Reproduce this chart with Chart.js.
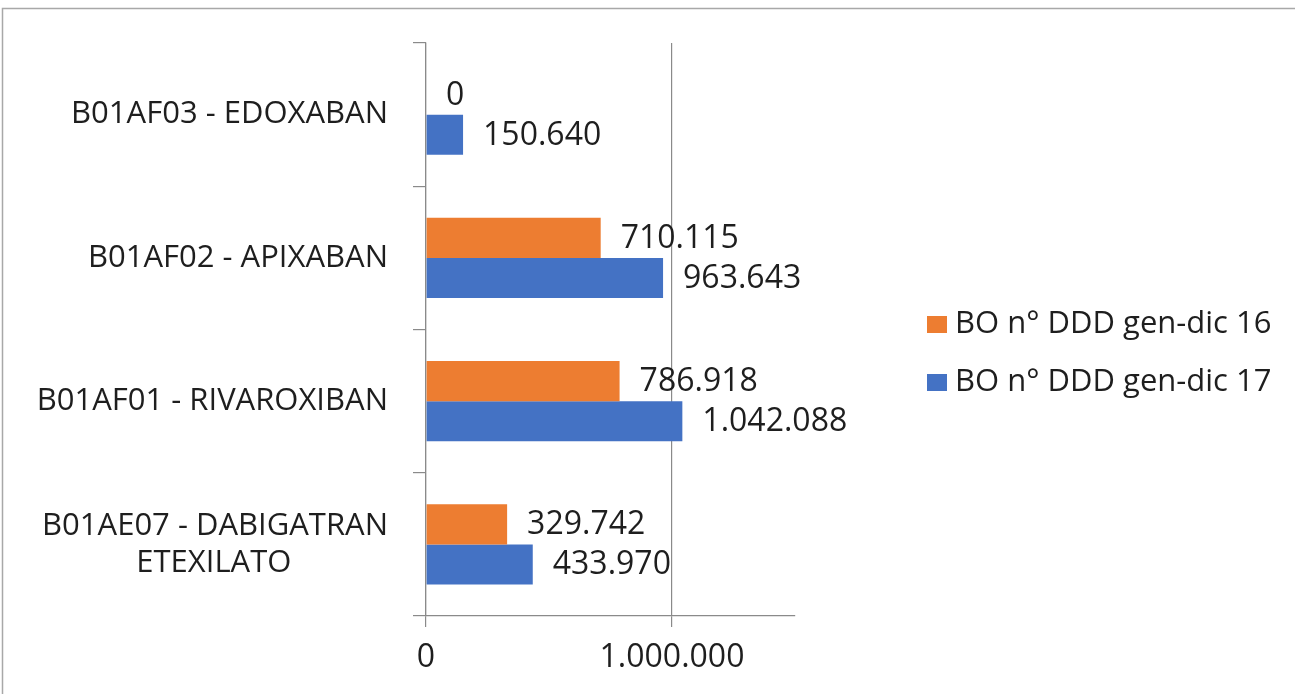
<!DOCTYPE html>
<html>
<head>
<meta charset="utf-8">
<script src="https://cdn.jsdelivr.net/npm/chart.js@4/dist/chart.umd.min.js"></script>
<style>
  html, body { margin: 0; padding: 0; background: #fff; }
  canvas { display: block; }
</style>
</head>
<body>
<canvas id="chart" width="1295" height="694"></canvas>
<script>
const categories = [
    'B01AF03 - EDOXABAN',
    'B01AF02 - APIXABAN',
    'B01AF01 - RIVAROXIBAN',
    ['B01AE07 - DABIGATRAN', 'ETEXILATO']
];
const seriesNames = ['BO n° DDD gen-dic 16', 'BO n° DDD gen-dic 17'];
const ddd16 = [0, 710115, 786918, 329742];
const ddd17 = [150640, 963643, 1042088, 433970];
const xTicks = [0, 1000000];
const xMax = 1500000;

const colors = ['#ED7D31', '#4472C4'];
const textColor = '#1e1e1e';
const lineColor = '#8a8a8a';
const fontFamily = '"Open Sans", sans-serif';

// formato italiano: 1.042.088
function fmt(v) {
    return String(v).replace(/\B(?=(\d{3})+(?!\d))/g, '.');
}

// centra le righe di un'etichetta su più righe (allineamento a destra del canvas)
const measureCtx = document.createElement('canvas').getContext('2d');
measureCtx.font = '31px ' + fontFamily;
function centerLines(label) {
    if (!Array.isArray(label)) return label;
    const widths = label.map(l => measureCtx.measureText(l).width);
    const maxW = Math.max(...widths);
    const space = measureCtx.measureText(' ').width;
    return label.map((l, i) => l + ' '.repeat(Math.round((maxW - widths[i]) / 2 / space)));
}

const framePlugin = {
    id: 'frame',
    beforeDraw(chart) {
        const ctx = chart.ctx;
        ctx.save();
        ctx.strokeStyle = '#a8a8a8';
        ctx.lineWidth = 1.5;
        ctx.beginPath();
        ctx.moveTo(2.5, chart.height);
        ctx.lineTo(2.5, 8.5);
        ctx.lineTo(chart.width, 8.5);
        ctx.stroke();
        ctx.restore();
    }
};

const valueLabels = {
    id: 'valueLabels',
    afterDatasetsDraw(chart) {
        const ctx = chart.ctx;
        ctx.save();
        ctx.font = '32px ' + fontFamily;
        ctx.fillStyle = textColor;
        ctx.textAlign = 'left';
        ctx.textBaseline = 'middle';
        chart.data.datasets.forEach((ds, di) => {
            chart.getDatasetMeta(di).data.forEach((bar, i) => {
                ctx.fillText(fmt(ds.data[i]), bar.x + 20, bar.y + 1);
            });
        });
        ctx.restore();
    }
};

const sideLegend = {
    id: 'sideLegend',
    afterDraw(chart) {
        const ctx = chart.ctx;
        const x = chart.chartArea.right + 132;
        ctx.save();
        ctx.font = '31px ' + fontFamily;
        ctx.textAlign = 'left';
        ctx.textBaseline = 'middle';
        chart.data.datasets.forEach((ds, i) => {
            const y = 324 + i * 58;
            ctx.fillStyle = ds.backgroundColor;
            ctx.fillRect(x, y - 8, 20, 17);
            ctx.fillStyle = textColor;
            ctx.fillText(ds.label, x + 28, y);
        });
        ctx.restore();
    }
};

new Chart(document.getElementById('chart'), {
    type: 'bar',
    data: {
        labels: categories.map(centerLines),
        datasets: [
            { label: seriesNames[0], data: ddd16, backgroundColor: colors[0] },
            { label: seriesNames[1], data: ddd17, backgroundColor: colors[1] }
        ]
    },
    options: {
        indexAxis: 'y',
        responsive: false,
        animation: false,
        events: [],
        barPercentage: 1,
        categoryPercentage: 0.5585,
        layout: { padding: { top: 43, right: 500, bottom: 0, left: 0 } },
        scales: {
            x: {
                min: 0,
                max: xMax,
                afterFit(scale) {
                    scale.height = 78;
                    scale.paddingLeft = 0;
                    scale.paddingRight = 0;
                },
                afterBuildTicks(scale) { scale.ticks = xTicks.map(v => ({ value: v })); },
                ticks: {
                    callback: v => fmt(v),
                    color: textColor,
                    font: { family: fontFamily, size: 32 },
                    padding: 12,
                    maxRotation: 0
                },
                grid: { color: lineColor, tickLength: 11, lineWidth: 1.2 },
                border: { color: lineColor, width: 1.2 }
            },
            y: {
                afterFit(scale) {
                    scale.width = 426;
                    scale.paddingTop = 0;
                    scale.paddingBottom = 0;
                },
                ticks: {
                    color: textColor,
                    font: { family: fontFamily, size: 31 },
                    padding: 25,
                    autoSkip: false
                },
                grid: { drawOnChartArea: false, color: lineColor, tickLength: 13, lineWidth: 1.2, offset: true },
                border: { color: lineColor, width: 1.2 }
            }
        },
        plugins: {
            legend: { display: false },
            tooltip: { enabled: false }
        }
    },
    plugins: [framePlugin, valueLabels, sideLegend]
});
</script>
</body>
</html>
